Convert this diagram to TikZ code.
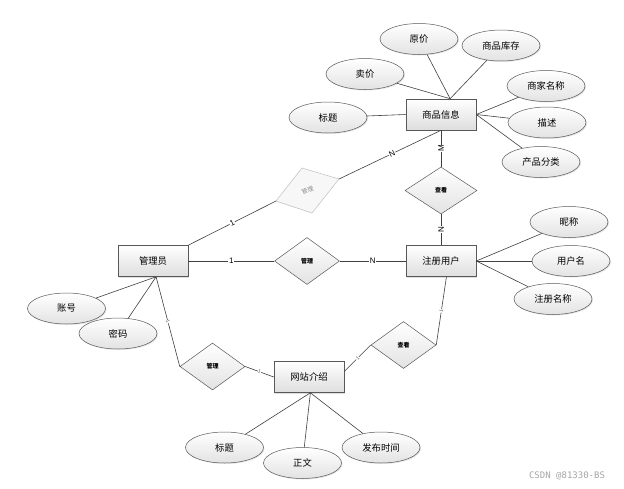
\documentclass[tikz,border=0pt]{standalone}
\usepackage{fontspec}
\setmainfont{Liberation Sans}
\newfontfamily\cjk{Noto Sans CJK SC}
\newfontfamily\wmfont{DejaVu Sans Mono}
\usetikzlibrary{shapes.geometric,shadows}
\begin{document}
\begin{tikzpicture}[x=1pt,y=-1pt,
 conn/.style={draw=black!75, line width=0.6pt},
 ent/.style={rectangle, draw=black!65, line width=0.6pt, top color=white, bottom color=black!13,
   minimum width=70pt, minimum height=31pt, inner sep=0pt, font=\cjk\fontsize{9.3}{10}\selectfont,
   drop shadow={opacity=0.25, shadow xshift=1.2pt, shadow yshift=-1.2pt}},
 attr/.style={ellipse, draw=black!65, line width=0.5pt, top color=white, bottom color=black!11,
   minimum width=78pt, minimum height=31pt, inner sep=0pt, font=\cjk\fontsize{9.3}{10}\selectfont,
   drop shadow={opacity=0.2, shadow xshift=1pt, shadow yshift=-1pt}},
 rel/.style={diamond, draw=black!65, line width=0.5pt, top color=white, bottom color=black!11,
   minimum width=65pt, minimum height=47pt, inner sep=0pt, font=\cjk\bfseries\fontsize{6}{7}\selectfont},
 lab/.style={fill=white, inner sep=0.6pt, font=\fontsize{8}{8}\selectfont},
 tick/.style={fill=white, inner sep=0.3pt, text=black!65, font=\fontsize{5}{5}\selectfont},
]
\fill[white] (0,0) rectangle (624,488);
\useasboundingbox (0,0) rectangle (624,488);

% entities
\node[ent] (pi) at (441,114.5) {商品信息};
\node[ent] (gly) at (153,261) {管理员};
\node[ent] (zc) at (441,261) {注册用户};
\node[ent] (wz) at (309,377) {网站介绍};

% relations
\node[rel, minimum width=72pt] (d2) at (441,190.5) {查看};
\node[rel] (d1) at (307,261) {管理};
\node[rel] (d3) at (212.5,366.5) {管理};
\node[rel] (d4) at (403.5,345) {查看};

% faded rotated relation
\coordinate (gl) at (276,201);
\coordinate (gt) at (302,168);
\coordinate (gr) at (339,179);
\coordinate (gb) at (312,213);
\filldraw[draw=black!25, fill=black!3, line width=0.5pt] (gl)--(gt)--(gr)--(gb)--cycle;
\node[rotate=20, text=black!45, font=\cjk\fontsize{6}{7}\selectfont] (gm) at (307.5,190.5) {管理};

% attributes
\node[attr] (yj) at (419,39) {原价};
\node[attr] (kc) at (501,45.5) {商品库存};
\node[attr] (mj) at (365,74) {卖价};
\node[attr] (bt1) at (328,117.5) {标题};
\node[attr] (sj) at (546,86) {商家名称};
\node[attr] (ms) at (547,122.5) {描述};
\node[attr] (fl) at (541,162) {产品分类};
\node[attr] (nc) at (569,222) {昵称};
\node[attr] (yhm) at (571,261) {用户名};
\node[attr] (zcmc) at (553,299) {注册名称};
\node[attr] (zh) at (66.5,308.5) {账号};
\node[attr] (mm) at (118,333.5) {密码};
\node[attr] (bt2) at (224.5,447.5) {标题};
\node[attr] (zw) at (302.5,463) {正文};
\node[attr] (fb) at (381,447.5) {发布时间};

% attribute connectors
\draw[conn] (yj) -- (pi.60);
\draw[conn] (kc) -- (pi.60);
\draw[conn] (mj) -- (pi.60);
\draw[conn] (bt1) -- (pi.west);
\draw[conn] (sj) -- (pi.east);
\draw[conn] (ms) -- (pi.east);
\draw[conn] (fl) -- (pi.east);
\draw[conn] (zc.east) -- (nc);
\draw[conn] (zc.east) -- (yhm);
\draw[conn] (zc.east) -- (zcmc);
\draw[conn] (zh) -- (gly.-79);
\draw[conn] (mm) -- (gly.-79);
\draw[conn] (wz.-85) -- (bt2);
\draw[conn] (wz.-85) -- (zw);
\draw[conn] (wz.-85) -- (fb);

% relation connectors
\draw[conn] (gr) -- node[lab, sloped, pos=0.52] {N} (pi.south);
\draw[conn] (gly.north east) -- node[lab, sloped] {1} (gl);
\draw[conn] (gly) -- node[lab] {1} (d1);
\draw[conn] (d1) -- node[lab] {N} (zc);
\draw[conn] (pi) -- node[lab, rotate=90] {M} (d2);
\draw[conn] (d2) -- node[lab, rotate=90] {N} (zc);
\draw[conn] (zc.-71) -- node[tick, sloped] {1} (d4.east);
\draw[conn] (d4.west) -- node[tick, sloped] {1} (wz.9);
\draw[conn] (gly.-79) -- node[tick, sloped] {1} (d3.west);
\draw[conn] (d3.east) -- node[tick, sloped] {1} (wz.west);

% watermark
\node[font=\wmfont\fontsize{9}{9}\selectfont, text=black!35] (wmk) at (567,476) {CSDN @81330-BS};
\end{tikzpicture}
\end{document}
